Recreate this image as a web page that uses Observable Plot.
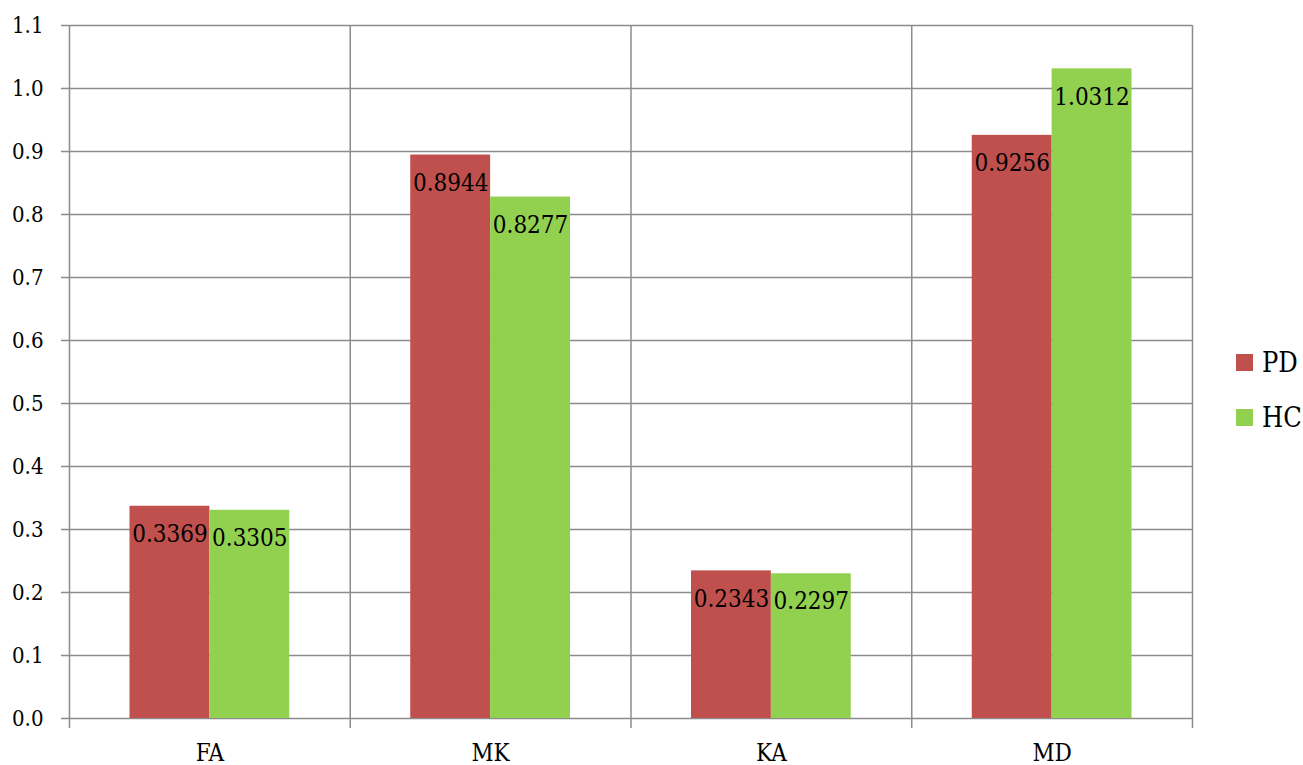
<!DOCTYPE html>
<html>
<head>
<meta charset="utf-8">
<script src="https://cdn.jsdelivr.net/npm/d3@7"></script>
<script src="https://cdn.jsdelivr.net/npm/@observablehq/plot@0.6"></script>
<style>
  html, body { margin: 0; padding: 0; background: #fff; }
  #wrap { position: relative; width: 1303px; height: 765px; }
  #wrap, #wrap svg, .legend {
    font-family: "DejaVu Serif Condensed", "DejaVu Serif", serif;
    font-stretch: condensed;
  }
  .legend { position: absolute; left: 1236px; color: #000; font-size: 27px; }
  .legend .item { position: absolute; left: 0; display: flex; align-items: center; height: 30px; white-space: nowrap; }
  .legend .swatch { width: 17px; height: 17px; margin-right: 9px; }
</style>
</head>
<body>
<div id="wrap"></div>
<script>
// Categories and the two series (PD, HC)
const categories = ["FA", "MK", "KA", "MD"];
const series = ["PD", "HC"];
const pdValues = [0.3369, 0.8944, 0.2343, 0.9256];
const hcValues = [0.3305, 0.8277, 0.2297, 1.0312];
const yTicks = [0, 0.1, 0.2, 0.3, 0.4, 0.5, 0.6, 0.7, 0.8, 0.9, 1.0, 1.1];
const seriesColors = ["#C0504D", "#92D050"];

// Each category occupies one unit on the x axis; the pair of bars sits in its middle.
const groupPad = 0.2155;
const barW = (1 - 2 * groupPad) / series.length;

const rows = [];
categories.forEach((c, i) => {
  [pdValues[i], hcValues[i]].forEach((v, s) => {
    const x1 = i + groupPad + s * barW;
    rows.push({category: c, series: series[s], value: v, x1, x2: x1 + barW, xm: x1 + barW / 2});
  });
});

const gridColor = "#8c8c8c";
const yMax = yTicks[yTicks.length - 1];

const chart = Plot.plot({
  width: 1303,
  height: 765,
  marginLeft: 69,
  marginRight: 111,
  marginTop: 25,
  marginBottom: 47,
  style: {background: "#fff", color: "#000", fontSize: "22px", overflow: "visible"},
  x: {
    domain: [0, categories.length],
    ticks: categories.map((c, i) => i + 0.5),
    tickFormat: (d) => categories[Math.floor(d)],
    tickSize: 0,
    tickPadding: 25,
    label: null
  },
  y: {
    domain: [0, yMax],
    ticks: yTicks,
    tickFormat: d3.format(".1f"),
    tickSize: 0,
    tickPadding: 26,
    label: null
  },
  color: {domain: series, range: seriesColors},
  marks: [
    // horizontal gridlines, each with a short tick to the left of the plot
    Plot.ruleY(yTicks, {stroke: gridColor, strokeWidth: 1.5, insetLeft: -8}),
    // category separators, each with a short tick below the baseline
    Plot.ruleX(d3.range(categories.length + 1), {y1: yMax, y2: 0, stroke: gridColor, strokeWidth: 1.5, insetBottom: -10}),
    Plot.rectY(rows, {x1: "x1", x2: "x2", y1: 0, y2: "value", fill: "series"}),
    Plot.text(rows, {
      x: "xm",
      y: "value",
      text: (d) => d3.format(".4f")(d.value),
      dy: 28,
      fontSize: 24,
      fill: "#000"
    })
  ]
});

const wrap = document.getElementById("wrap");
wrap.appendChild(chart);
// x axis labels a little larger than the y axis labels
chart.querySelectorAll('g[aria-label^="x-axis"] text').forEach((t) => t.setAttribute("font-size", "24"));

// Legend on the right
const legend = document.createElement("div");
legend.className = "legend";
legend.style.top = "0px";
series.forEach((s, i) => {
  const item = document.createElement("div");
  item.className = "item";
  item.style.top = (347 + i * 55) + "px";
  item.innerHTML = `<span class="swatch" style="background:${seriesColors[i]}"></span><span>${s}</span>`;
  legend.appendChild(item);
});
wrap.appendChild(legend);
</script>
</body>
</html>
